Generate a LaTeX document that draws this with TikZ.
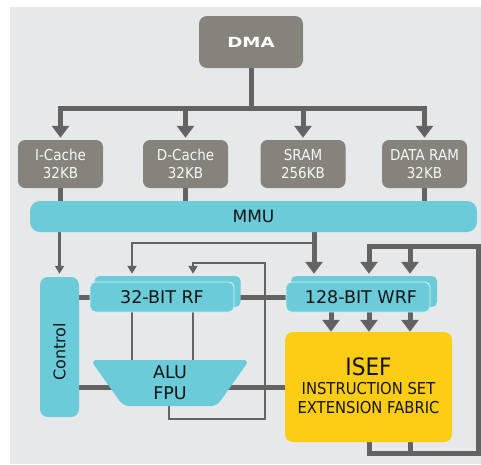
\documentclass[tikz,border=0pt]{standalone}
\usepackage{fontspec}
\setmainfont{DejaVu Sans}
\newfontfamily\narrowfont[FakeStretch=0.9]{DejaVu Sans}
\usetikzlibrary{arrows.meta,shapes.geometric}

\definecolor{panel}{HTML}{E7E8EA}
\definecolor{memgray}{HTML}{86827C}
\definecolor{wire}{HTML}{636363}
\definecolor{aqua}{HTML}{6CCBD8}
\definecolor{aquaedge}{HTML}{D6F1F5}
\definecolor{fabric}{HTML}{FCCD14}
\definecolor{ink}{HTML}{151515}

\pgfdeclarelayer{wires}
\pgfsetlayers{wires,main}

\begin{document}
\begin{tikzpicture}[x=1pt,y=-1pt,
  membox/.style={fill=memgray, rounded corners=7pt, inner sep=0pt, text=white!94!memgray,
    align=center, font=\narrowfont\fontsize{15}{18}\selectfont, minimum width=85pt, minimum height=48pt},
  dmabox/.style={membox, font=\bfseries\fontsize{14}{16}\selectfont, text=white,
    minimum width=104pt, minimum height=52pt, rounded corners=8pt},
  unit/.style={fill=aqua, inner sep=0pt, text=ink, align=center, font=\fontsize{17.5}{21}\selectfont},
  regback/.style={unit, minimum width=146pt, minimum height=31pt, rounded corners=5pt},
  regfront/.style={unit, draw=aquaedge, line width=0.9pt, minimum width=144pt, minimum height=30pt, rounded corners=5pt},
  fabricbox/.style={fill=fabric, rounded corners=8pt, inner sep=0pt, text=ink, align=center,
    minimum width=167pt, minimum height=110pt},
  wthick/.style={draw=wire, line width=5pt, line join=miter},
  wthin/.style={draw=wire, line width=2.6pt, line join=miter},
  bigtip/.style={-{Triangle[width=17pt,length=12pt]}},
  smalltip/.style={-{Triangle[width=9pt,length=8pt]}}
]
\useasboundingbox (0,0) rectangle (481,464);

% memory blocks
\node[dmabox] (dma) at (251,42) {\scalebox{1.3}[1]{DMA}};
\node[membox] (icache) at (60.5,164) {I-Cache\\32KB};
\node[membox] (dcache) at (185.5,164) {D-Cache\\32KB};
\node[membox] (sram) at (303,164) {SRAM\\256KB};
\node[membox] (dram) at (424.5,164) {DATA RAM\\32KB};

% processor blocks
\node[unit, minimum width=447pt, minimum height=31pt, rounded corners=10pt, font=\fontsize{17}{20}\selectfont]
  (mmu) at (253.5,216.5) {MMU};
\node[unit, minimum width=39pt, minimum height=140pt, rounded corners=8pt, font=\fontsize{16}{19}\selectfont]
  (ctrl) at (59.5,347) {\raisebox{0pt}{\rotatebox{90}{Control\hspace*{10pt}}}};
\node[regback] (rfb) at (167.5,291.5) {};
\node[regfront] (rf) at (162,297) {32-BIT RF};
\node[regback] (wrfb) at (364,291.5) {};
\node[regfront] (wrf) at (358,297) {\hspace*{6pt}128-BIT WRF};
\node[unit, trapezium, shape border rotate=180, trapezium angle=71, trapezium stretches=true,
  minimum width=159pt, minimum height=46pt, rounded corners=6pt]
  (alu) at (170,383) {ALU\\FPU};
\node[fabricbox] (isef) at (368.5,387) {};
\node[text=ink, align=center, font=\narrowfont\fontsize{16.4}{19}\selectfont, inner sep=0pt] (iseftext) at (368.5,386)
  {{\fontsize{24}{22}\selectfont ISEF}\\INSTRUCTION SET\\EXTENSION FABRIC};

% wire columns and levels
\coordinate (xA) at (314,0);
\coordinate (xB) at (132,0);
\coordinate (xC) at (193,0);
\coordinate (xD) at (265,0);
\coordinate (xE) at (169,0);
\coordinate (xF) at (331,0);
\coordinate (xG) at (369,0);
\coordinate (xH) at (410,0);
\coordinate (xI) at (478,0);
\coordinate (yBus) at (0,108);
\coordinate (yT) at (0,243);
\coordinate (yU) at (0,263);
\coordinate (yLoop) at (0,419);
\coordinate (yFb) at (0,246);
\coordinate (yBot) at (0,453);
\coordinate (yAlu) at (0,387);

\begin{pgfonlayer}{wires}
  \fill[panel] (10,7) rectangle (481,464);

  % DMA distribution bus
  \draw[wthick] (dma.south) -- (dma.south |- yBus);
  \draw[wthick, bigtip, shorten >=2pt] (dma.south |- yBus) -| (icache.north);
  \draw[wthick, bigtip, shorten >=2pt] (dma.south |- yBus) -| (dcache.north);
  \draw[wthick, bigtip, shorten >=2pt] (dma.south |- yBus) -| (sram.north);
  \draw[wthick, bigtip, shorten >=2pt] (dma.south |- yBus) -| (dram.north);

  % memories to MMU
  \draw[wthick] (icache.south) -- (mmu.north -| icache);
  \draw[wthick] (dcache.south) -- (mmu.north -| dcache);
  \draw[wthick] (dram.south) -- (mmu.north -| dram);

  % MMU outputs
  \draw[wthin, smalltip, shorten >=3pt] (mmu.south -| ctrl) -- (ctrl.north);
  \draw[wthick, bigtip, shorten >=2pt] (mmu.south -| xA) -- (wrfb.north -| xA);
  \draw[wthin, smalltip, shorten >=2pt] (xA |- yT) -| (rfb.north -| xB);

  % ALU result back to the register file
  \draw[wthin, smalltip, shorten >=2pt] (alu.center -| xE) |- (xD |- yLoop) |- (xC |- yU) -- (rfb.north -| xC);

  % register file to ALU
  \draw[wthin] (rf.center -| xB) -- (alu.center -| xB);
  \draw[wthin] (rf.center -| xC) -- (alu.center -| xC);

  % horizontal links
  \draw[wthick] (ctrl.center |- rf) -- (rf.center);
  \draw[wthick] (rf.center) -- (wrf.center);
  \draw[wthick] (ctrl.center |- yAlu) -- (alu.center |- yAlu);
  \draw[wthick] (alu.center |- yAlu) -- (isef.center |- yAlu);

  % wide register file to ISEF
  \draw[wthick, bigtip] (wrf.south -| xF) -- (isef.north -| xF);
  \draw[wthick, bigtip] (wrf.south -| xG) -- (isef.north -| xG);
  \draw[wthick, bigtip] (wrf.south -| xH) -- (isef.north -| xH);

  % ISEF write-back loop
  \draw[wthick, bigtip, shorten >=2pt] (isef.center -| xG) |- (xI |- yBot) |- (xG |- yFb) -- (wrfb.north -| xG);
  \draw[wthick] (isef.center -| xH) -- (xH |- yBot);
  \draw[wthick, bigtip, shorten >=2pt] (xH |- yFb) -- (wrfb.north -| xH);
\end{pgfonlayer}
\end{tikzpicture}
\end{document}
